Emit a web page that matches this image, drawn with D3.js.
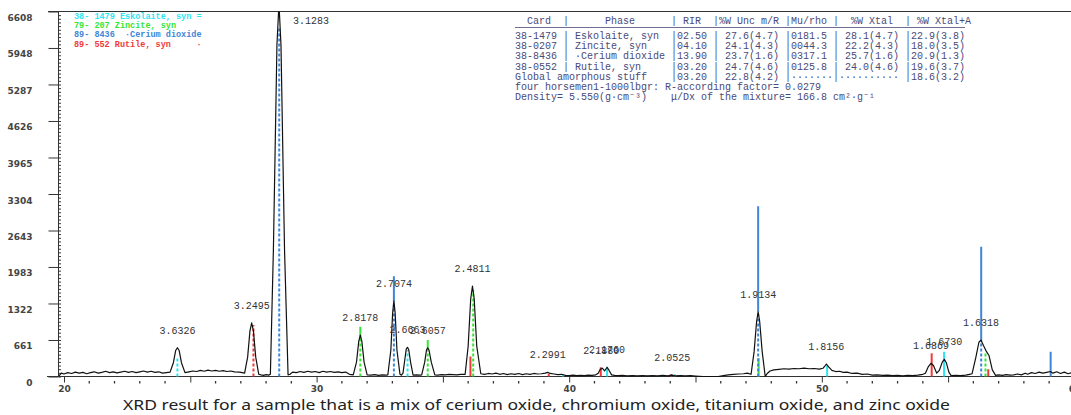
<!DOCTYPE html>
<html>
<head>
<meta charset="utf-8">
<script src="https://cdn.jsdelivr.net/npm/d3@7"></script>
<style>
  body { margin: 0; background: #fff; }
  svg { display: block; }
  svg text.pre { white-space: pre; }
</style>
</head>
<body>
<div id="chart"></div>
<script>
// measured pattern, [2theta, counts]
const profile = [
    [19.8,10],[19.9,60],[20.0,45],[20.15,70],[20.3,55],[20.45,80],[20.6,60],[20.75,75],[20.9,50],[21.05,70],
    [21.2,85],[21.35,60],[21.5,75],[21.65,95],[21.8,70],[21.95,85],[22.1,65],[22.25,80],[22.4,95],[22.55,75],
    [22.7,90],[22.85,70],[23.0,85],[23.15,100],[23.3,80],[23.45,95],[23.6,75],[23.75,85],[23.9,60],[24.05,70],
    [24.2,80],[24.33,250],[24.42,470],[24.49,521],[24.56,470],[24.65,250],[24.79,70],
    [24.95,85],[25.1,100],[25.25,90],[25.4,110],[25.55,95],[25.7,115],[25.85,100],[26.0,110],[26.15,95],
    [26.3,105],[26.45,90],[26.6,100],[26.75,85],[26.95,80],
    [27.15,60],[27.27,350],[27.36,820],[27.43,973],[27.5,820],[27.59,350],[27.71,40],
    [27.8,30],[27.9,20],[28.0,35],[28.1,25],
    [28.17,40],[28.29,2300],[28.43,6000],[28.51,6750],[28.59,6000],[28.73,2300],[28.87,30],
    [28.95,40],[29.05,80],[29.2,70],[29.35,90],[29.5,75],[29.65,95],[29.8,80],[29.95,90],[30.1,70],
    [30.25,95],[30.4,80],[30.55,90],[30.7,75],[30.85,85],[31.0,70],[31.15,80],[31.3,40],
    [31.45,30],[31.58,260],[31.67,640],[31.73,750],[31.79,640],[31.88,260],[32.0,30],
    [32.15,25],[32.3,35],[32.45,20],[32.6,30],[32.75,25],
    [32.82,30],[32.94,480],[33.01,1150],[33.06,1370],[33.11,1150],[33.18,480],[33.3,40],
    [33.36,25],[33.42,60],[33.5,330],[33.55,500],[33.6,528],[33.65,480],[33.72,260],[33.82,25],
    [33.95,30],[34.1,25],
    [34.16,30],[34.28,260],[34.35,480],[34.4,521],[34.45,480],[34.54,260],[34.68,30],
    [34.8,25],[34.95,35],[35.1,30],[35.25,40],[35.4,35],[35.55,30],[35.7,40],
    [35.88,40],[36.0,550],[36.1,1400],[36.17,1636],[36.24,1400],[36.34,550],[36.5,50],
    [36.65,40],[36.8,55],[36.95,45],[37.1,60],[37.25,40],[37.4,55],[37.55,35],[37.7,50],[37.85,40],
    [38.0,55],[38.15,35],[38.3,50],[38.45,40],[38.6,55],[38.75,45],[38.9,50],[39.05,60],[39.15,75],
    [39.25,55],[39.4,45],[39.55,35],[39.7,40],[39.85,20],[40.0,15],[40.15,25],[40.3,15],[40.45,20],
    [40.6,15],[40.75,25],[40.9,20],[41.05,30],
    [41.15,60],[41.23,130],[41.31,150],[41.4,100],[41.5,168],[41.58,110],[41.68,30],
    [41.8,20],[41.95,15],[42.1,20],[42.3,10],[42.5,15],[42.7,10],[42.9,15],[43.1,10],[43.3,15],
    [43.5,10],[43.7,20],[43.9,10],[44.05,25],[44.2,10],[44.4,15],[44.6,10],[44.8,15],[45.0,8],
    [45.3,0],[45.6,0],[45.9,0],[46.1,15],[46.3,30],[46.5,40],[46.7,45],[46.9,50],[47.05,60],
    [47.2,40],[47.32,450],[47.42,1000],[47.48,1172],[47.54,1000],[47.64,450],[47.76,0],
    [47.85,60],[47.95,100],[48.1,120],[48.3,130],[48.5,140],[48.7,135],[48.9,145],[49.1,140],
    [49.3,150],[49.5,140],[49.7,145],[49.9,135],[50.05,150],
    [50.12,190],[50.18,226],[50.28,170],[50.4,110],[50.55,90],[50.7,95],[50.85,75],[51.0,80],
    [51.2,55],[51.4,60],[51.6,40],[51.8,45],[52.0,25],[52.2,30],[52.4,20],[52.6,25],[52.8,15],
    [53.0,20],[53.2,10],[53.4,20],[53.6,15],[53.8,25],[54.0,40],
    [54.1,60],[54.22,180],[54.32,239],[54.42,200],[54.55,60],[54.65,110],[54.77,260],[54.85,311],
    [54.93,250],[55.03,80],[55.12,15],
    [55.3,20],[55.5,15],[55.7,25],[55.85,40],
    [55.95,50],[56.1,350],[56.22,620],[56.3,660],[56.4,560],[56.52,450],[56.62,380],[56.75,120],[56.88,20],
    [57.0,30],[57.15,20],[57.3,35],[57.45,25],[57.6,30],[57.75,45],[57.9,30],[58.05,60],[58.15,40],
    [58.3,70],[58.45,55],[58.6,80],[58.75,60],[58.9,75],[59.05,90],[59.15,60],[59.3,85],[59.45,55],
    [59.6,80],[59.75,50],[59.9,70],[60.1,60]
];

// reference cards, [2theta, counts]
const eskolaite = [[24.49,360],[33.6,480],[39.75,30],[41.5,166],[44.18,40],[50.21,190],[54.84,449]];
const zincite = [[31.73,900],[34.4,660],[36.2,1564],[47.5,335],[56.48,449]];
const ceriumDioxide = [[28.52,6300],[33.06,1817],[47.48,3083],[56.31,2347],[59.06,449]];
const rutile = [[27.5,931],[36.09,360],[39.19,45],[41.25,166],[44.05,45],[54.35,420],[56.59,130]];

const phaseColors = ["#2ee6f2", "#35e635", "#3f86d8", "#f03a3a"];
const legendLines = [
    "38- 1479 Eskolaite, syn =",
    "79- 207 Zincite, syn",
    "89- 8436  \u00b7Cerium dioxide",
    "89- 552 Rutile, syn     \u00b7"
];

// peak labels (d-spacing) and their 2theta
const peakLabels = ["3.6326","3.2495","3.1283","2.8178","2.7074","2.6663","2.6057","2.4811","2.2991",
    "2.1880","2.1760","2.0525","1.9134","1.8156","1.6869","1.6730","1.6318"];
const peakPositions = [24.49,27.43,28.51,31.73,33.06,33.6,34.4,36.17,39.15,
    41.27,41.5,44.08,47.48,50.18,54.32,54.85,56.3];

const tableHeader = "  Card  |      Phase      | RIR  |%W Unc m/R |Mu/rho |  %W Xtal  | %W Xtal+A";
const tableRows = [
    "38-1479 | Eskolaite, syn  |02.50 | 27.6(4.7) |0181.5 | 28.1(4.7) |22.9(3.8)",
    "38-0207 | Zincite, syn    |04.10 | 24.1(4.3) |0044.3 | 22.2(4.3) |18.0(3.5)",
    "38-8436 | \u00b7Cerium dioxide |13.90 | 23.7(1.6) |0317.1 | 25.7(1.6) |20.9(1.3)",
    "38-0552 | Rutile, syn     |03.20 | 24.7(4.6) |0125.8 | 24.0(4.6) |19.6(3.7)",
    "Global amorphous stuff    |03.20 | 22.8(4.2) |\u00b7\u00b7\u00b7\u00b7\u00b7\u00b7\u00b7|\u00b7\u00b7\u00b7\u00b7\u00b7\u00b7\u00b7\u00b7\u00b7\u00b7 |18.6(3.2)",
    "four horsemen1-1000lbgr: R-according factor= 0.0279",
    "Density= 5.550(g\u00b7cm\u207b\u00b3)    \u03bc/Dx of the mixture= 166.8 cm\u00b2\u00b7g\u207b\u00b9"
];

const yTickLabels = ["0","661","1322","1983","2643","3304","3965","4626","5287","5948","6608"];
const xTickLabels = ["20","30","40","50","60"];
const xMidTicks = [25,35,45,55];

const caption = "XRD result for a sample that is a mix of cerium oxide, chromium oxide, titanium oxide, and zinc oxide";

const width = 1071, height = 415;
const axisColor = "#333";

const svg = d3.select("#chart")
    .append("svg")
    .attr("width", width)
    .attr("height", height)
    .style("background", "#fff");

const xScale = d3.scaleLinear().domain([20, 60]).range([64, 1074.4]);
const yScale = d3.scaleLinear().domain([0, 6608]).range([376.5, 11.5]);

svg.append("clipPath").attr("id", "plot-clip")
    .append("rect").attr("x", 58).attr("y", 11.5).attr("width", 1020).attr("height", 370);

// frame
svg.append("line").attr("x1", 48).attr("x2", 1071).attr("y1", 11.5).attr("y2", 11.5)
    .attr("stroke", axisColor).attr("stroke-width", 1);
svg.append("line").attr("x1", 47).attr("x2", 1071).attr("y1", 376.5).attr("y2", 376.5)
    .attr("stroke", axisColor).attr("stroke-width", 1);
svg.append("line").attr("x1", 58.5).attr("x2", 58.5).attr("y1", 11.5).attr("y2", 376.5)
    .attr("stroke", axisColor).attr("stroke-width", 1);

// y axis
svg.append("g")
    .attr("transform", "translate(58.5,0)")
    .call(d3.axisLeft(yScale)
        .tickValues(yTickLabels.map(Number))
        .tickFormat((d, i) => yTickLabels[i])
        .tickSize(10)
        .tickPadding(16))
    .call(g => g.select(".domain").remove())
    .call(g => g.selectAll("line").attr("stroke", axisColor))
    .call(g => g.selectAll("text")
        .attr("dy", "1em")
        .attr("fill", "#444")
        .style("font-family", "DejaVu Sans, sans-serif")
        .style("font-weight", "bold")
        .style("font-size", "9px"));

svg.append("g")
    .attr("transform", "translate(58.5,0)")
    .call(d3.axisRight(yScale)
        .tickValues(d3.range(0, 6608, 66.08))
        .tickFormat("")
        .tickSize(2.5))
    .call(g => g.select(".domain").remove())
    .call(g => g.selectAll("line").attr("stroke", axisColor));

// x axis
svg.append("g")
    .attr("transform", "translate(0,376.5)")
    .call(d3.axisBottom(xScale)
        .tickValues(xTickLabels.map(Number))
        .tickFormat((d, i) => xTickLabels[i])
        .tickSize(6)
        .tickPadding(3))
    .call(g => g.select(".domain").remove())
    .call(g => g.selectAll("line").attr("stroke", axisColor))
    .call(g => g.selectAll("text")
        .attr("fill", "#444")
        .style("font-family", "DejaVu Sans, sans-serif")
        .style("font-weight", "bold")
        .style("font-size", "9px"));

svg.append("g")
    .attr("transform", "translate(0,376.5)")
    .call(d3.axisBottom(xScale).tickValues(xMidTicks).tickFormat("").tickSize(6))
    .call(g => g.select(".domain").remove())
    .call(g => g.selectAll("line").attr("stroke", axisColor));

svg.append("g")
    .selectAll("line")
    .data(d3.range(21, 60).filter(d => d % 5 !== 0))
    .enter()
    .append("line")
    .attr("x1", d => xScale(d)).attr("x2", d => xScale(d))
    .attr("y1", 381).attr("y2", 383.5)
    .attr("stroke", axisColor).attr("stroke-width", 1.3);

// sticks
function profileMax(t, w) {
    const near = profile.filter(p => Math.abs(p[0] - t) <= w);
    return near.length ? d3.max(near, p => p[1]) : 0;
}

const allSticks = [eskolaite, zincite, ceriumDioxide, rutile]
    .flatMap((arr, i) => arr.map(d => ({ t: d[0], v: d[1], phase: i })));

allSticks.forEach(s => {
    const others = allSticks.filter(o => o !== s && Math.abs(o.t - s.t) <= 0.15);
    const tallest = others.every(o => o.v <= s.v);
    const pMax = profileMax(s.t, 0.15);
    s.dashTop = (tallest && pMax >= 500) ? Math.min(s.v, pMax) : 0;
});

const stickG = svg.append("g").attr("clip-path", "url(#plot-clip)");

stickG.selectAll("line.solid")
    .data(allSticks)
    .enter()
    .append("line")
    .attr("class", "solid")
    .attr("x1", d => xScale(d.t)).attr("x2", d => xScale(d.t))
    .attr("y1", d => yScale(d.dashTop)).attr("y2", d => yScale(d.v))
    .attr("stroke", d => phaseColors[d.phase])
    .attr("stroke-width", 2);

stickG.selectAll("line.dashed")
    .data(allSticks.filter(d => d.dashTop > 0))
    .enter()
    .append("line")
    .attr("class", "dashed")
    .attr("x1", d => xScale(d.t)).attr("x2", d => xScale(d.t))
    .attr("y1", yScale(0)).attr("y2", d => yScale(d.dashTop))
    .attr("stroke", d => phaseColors[d.phase])
    .attr("stroke-width", 2)
    .attr("stroke-dasharray", "3,2");

// pattern
const line = d3.line()
    .x(d => xScale(d[0]))
    .y(d => yScale(d[1]));

svg.append("path")
    .datum(profile)
    .attr("clip-path", "url(#plot-clip)")
    .attr("d", line)
    .attr("fill", "none")
    .attr("stroke", "#111")
    .attr("stroke-width", 1.2)
    .attr("stroke-linejoin", "round");

// peak labels
svg.append("g")
    .selectAll("text")
    .data(peakLabels)
    .enter()
    .append("text")
    .attr("x", (d, i) => {
        const top = profileMax(peakPositions[i], 0.08);
        return top > 6608 ? xScale(peakPositions[i]) + 14 : xScale(peakPositions[i]);
    })
    .attr("y", (d, i) => {
        const top = profileMax(peakPositions[i], 0.08);
        return top > 6608 ? 24 : yScale(top) - 14;
    })
    .attr("text-anchor", (d, i) => profileMax(peakPositions[i], 0.08) > 6608 ? "start" : "middle")
    .attr("fill", "#333")
    .style("font-family", "Liberation Mono, monospace")
    .style("font-size", "10px")
    .text(d => d);

// legend
svg.append("g")
    .selectAll("text")
    .data(legendLines)
    .enter()
    .append("text")
    .attr("class", "pre")
    .attr("x", 74)
    .attr("y", (d, i) => 18.5 + i * 9.4)
    .attr("fill", (d, i) => phaseColors[i])
    .style("font-family", "Liberation Mono, monospace")
    .style("font-weight", "bold")
    .style("font-size", "8.5px")
    .text(d => d);

// table
const table = svg.append("g")
    .attr("fill", "#4a4a78")
    .style("font-family", "Liberation Mono, monospace")
    .style("font-size", "10px");

table.append("text").attr("class", "pre").attr("x", 515).attr("y", 24).text(tableHeader);
table.append("line").attr("x1", 515).attr("x2", 965).attr("y1", 27.5).attr("y2", 27.5)
    .attr("stroke", "#4a4a78").attr("stroke-width", 0.8);
table.selectAll("text.row")
    .data(tableRows)
    .enter()
    .append("text")
    .attr("class", "pre row")
    .attr("x", 515)
    .attr("y", (d, i) => 39 + i * 10.2)
    .text(d => d);

// caption
svg.append("text")
    .attr("x", 123)
    .attr("y", 410)
    .attr("textLength", 827)
    .attr("lengthAdjust", "spacingAndGlyphs")
    .attr("fill", "#222")
    .style("font-family", "Noto Sans, sans-serif")
    .style("font-size", "14.5px")
    .text(caption);
</script>
</body>
</html>
